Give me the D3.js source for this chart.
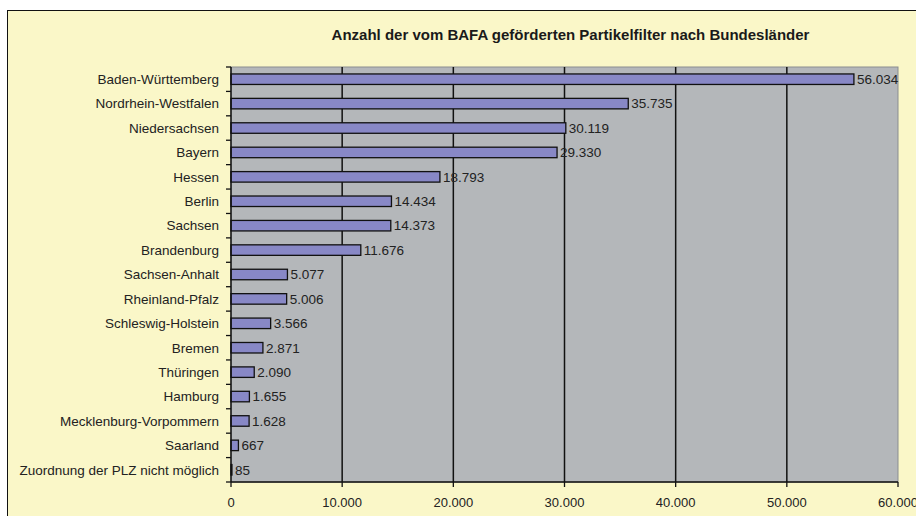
<!DOCTYPE html>
<html><head><meta charset="utf-8">
<script src="https://cdn.jsdelivr.net/npm/d3@7/dist/d3.min.js"></script>
<style>body{margin:0;background:#fff;}svg{display:block;}</style>
</head><body>
<script>
const categories = ["Baden-Württemberg","Nordrhein-Westfalen","Niedersachsen","Bayern","Hessen","Berlin","Sachsen","Brandenburg","Sachsen-Anhalt","Rheinland-Pfalz","Schleswig-Holstein","Bremen","Thüringen","Hamburg","Mecklenburg-Vorpommern","Saarland","Zuordnung der PLZ nicht möglich"];
const values = [56034,35735,30119,29330,18793,14434,14373,11676,5077,5006,3566,2871,2090,1655,1628,667,85];
const xTicks = [0,10000,20000,30000,40000,50000,60000];
const title = "Anzahl der vom BAFA geförderten Partikelfilter nach Bundesländer";

const W = 916, H = 516;
const FONT = "Liberation Sans, Arial, sans-serif";
const svg = d3.select("body").append("svg").attr("width", W).attr("height", H);
svg.append("rect").attr("x", 7.5).attr("y", 10.5).attr("width", W).attr("height", H)
  .attr("fill", "#faf7c8").attr("stroke", "#111").attr("stroke-width", 1);

const L = 231, R = 898, T = 67, B = 482;
const fmt = v => d3.format(",")(v).replace(/,/g, ".");
const x = d3.scaleLinear().domain([0, 60000]).range([L, R]);
const y = d3.scaleBand().domain(categories).range([T, B]).paddingInner(0.57).paddingOuter(0.285);
const yb = d3.scaleBand().domain(categories).range([T, B]);

svg.append("rect").attr("x", L).attr("y", T).attr("width", R - L).attr("height", B - T)
  .attr("fill", "#b4b7ba").attr("stroke", "#8a8d90").attr("stroke-width", 1);

svg.append("text").attr("x", 570.5).attr("y", 40).attr("text-anchor", "middle")
  .attr("font-family", FONT).attr("font-weight", "bold")
  .attr("font-size", 15).attr("fill", "#1a1a1a").text(title);

// grid
svg.append("g").selectAll("line").data(xTicks.slice(1, -1)).join("line")
  .attr("x1", d => x(d)).attr("x2", d => x(d)).attr("y1", T).attr("y2", B)
  .attr("stroke", "#111").attr("stroke-width", 1.5);

// bars
svg.append("g").selectAll("rect").data(values).join("rect")
  .attr("x", x(0)).attr("y", (d, i) => y(categories[i]))
  .attr("width", d => x(d) - x(0)).attr("height", y.bandwidth())
  .attr("fill", "#8888c6").attr("stroke", "#111").attr("stroke-width", 1.3);

// value labels
svg.append("g").selectAll("text").data(values).join("text")
  .attr("x", d => x(d) + 3).attr("y", (d, i) => y(categories[i]) + y.bandwidth() / 2 + 4.8)
  .attr("font-family", FONT).attr("font-size", 13.5)
  .attr("fill", "#222").text(d => fmt(d));

// y axis
const ya = svg.append("g");
ya.append("line").attr("x1", L).attr("x2", L).attr("y1", T).attr("y2", B).attr("stroke", "#111").attr("stroke-width", 1.5);
ya.selectAll("line.t").data(categories.concat(["end"])).join("line").attr("class", "t")
  .attr("x1", L - 5).attr("x2", L).attr("y1", (d, i) => T + i * yb.bandwidth()).attr("y2", (d, i) => T + i * yb.bandwidth())
  .attr("stroke", "#111").attr("stroke-width", 1.3);
ya.selectAll("text").data(categories).join("text")
  .attr("x", L - 12).attr("y", d => yb(d) + yb.bandwidth() / 2 + 4.8).attr("text-anchor", "end")
  .attr("font-family", FONT).attr("font-size", 13.5)
  .attr("fill", "#222").text(d => d);

// x axis
const xa = svg.append("g");
xa.append("line").attr("x1", L).attr("x2", R).attr("y1", B).attr("y2", B).attr("stroke", "#111").attr("stroke-width", 1.5);
xa.selectAll("line.t").data(xTicks).join("line").attr("class", "t")
  .attr("x1", d => x(d)).attr("x2", d => x(d)).attr("y1", B).attr("y2", B + 5)
  .attr("stroke", "#111").attr("stroke-width", 1.3);
xa.selectAll("text").data(xTicks).join("text")
  .attr("x", d => x(d)).attr("y", 507).attr("text-anchor", "middle")
  .attr("font-family", FONT).attr("font-size", 13)
  .attr("fill", "#222").text(d => fmt(d));
</script>
</body></html>
